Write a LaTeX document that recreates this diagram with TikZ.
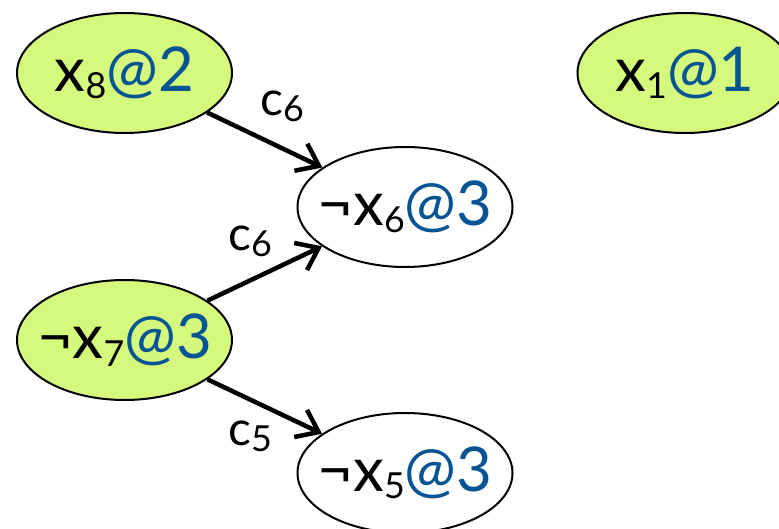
\documentclass[tikz,border=0pt]{standalone}
\usepackage{fontspec}
\setmainfont{Lato}
\usetikzlibrary{shapes.geometric,arrows.meta}
\definecolor{litgreen}{RGB}{213,249,125}
\definecolor{atblue}{RGB}{6,84,148}
\newcommand\subd[1]{\raisebox{-0.12em}{\fontsize{36}{36}\selectfont #1}}
\newcommand\atl[1]{\textcolor{atblue}{@#1}}
\begin{document}
\begin{tikzpicture}[x=1bp,y=-1bp,
  lit/.style={ellipse,draw=black,line width=2bp,minimum width=215bp,minimum height=120bp,inner xsep=-30bp,inner ysep=0pt,font=\fontsize{62}{62}\selectfont},
  litg/.style={lit,fill=litgreen},
  litw/.style={lit,fill=white},
  arr/.style={line width=4.5bp,-{Straight Barb[length=20bp,width=30bp,line width=4.5bp]}},
  lab/.style={font=\fontsize{48}{48}\selectfont,inner sep=0pt}]
\useasboundingbox (0,0) rectangle (779,529);
\node[litg] (x8) at (124.5,73) {x\subd{8}\atl{2}};
\node[litg] (x1) at (685,73) {x\subd{1}\atl{1}};
\node[litw] (nx6) at (405,207) {¬x\subd{6}\atl{3}};
\node[litg] (nx7) at (124.5,340) {¬x\subd{7}\atl{3}};
\node[litw] (nx5) at (405,473) {¬x\subd{5}\atl{3}};
\draw[arr] (x8) -- (nx6);
\draw[arr] (nx7) -- (nx6);
\draw[arr] (nx7) -- (nx5);
\node[lab] (l1) at (282,106) {c\subd{6}};
\node[lab] (l2) at (250,241) {c\subd{6}};
\node[lab] (l3) at (250,436) {c\subd{5}};
\end{tikzpicture}
\end{document}
